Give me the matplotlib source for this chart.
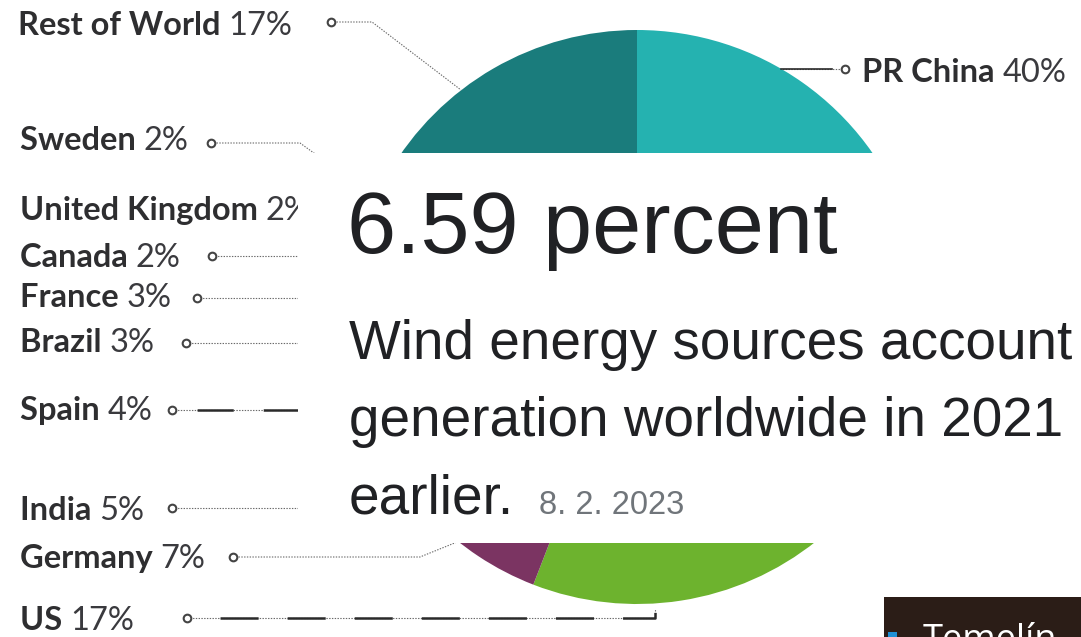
import matplotlib
matplotlib.use("Agg")
import matplotlib.pyplot as plt
from matplotlib.patches import Rectangle

# Share of global installed wind capacity by country (%)
countries = ["PR China", "US", "Germany", "India", "Spain", "Brazil",
             "France", "Canada", "United Kingdom", "Sweden", "Rest of World"]
shares = [40, 17, 7, 5, 4, 3, 3, 2, 2, 2, 17]
slice_colors = ["#25b2b0", "#6db32e", "#7b3462", "#f0a22e", "#e0553b", "#f4c842",
                "#4a6fb5", "#c0392b", "#8e8e8e", "#3c9ad6", "#1a7c7c"]

# Headline snippet
headline = "6.59 percent"
snippet_lines = ["Wind energy sources account",
                 "generation worldwide in 2021",
                 "earlier."]
snippet_date = "8. 2. 2023"
tab_label = "Temelín"

plt.rcParams["lines.scale_dashes"] = False

W, H = 1081, 637
fig = plt.figure(figsize=(W / 100, H / 100), dpi=100)
ax = fig.add_axes([0, 0, 1, 1])

# Pie: starts at 12 o'clock and runs clockwise (y axis is inverted below)
cx, cy, R = 637, 317, 287
ax.pie(shares, colors=slice_colors, startangle=270, counterclock=True,
       center=(cx, cy), radius=R, wedgeprops=dict(linewidth=0))
ax.set_xlim(0, W)
ax.set_ylim(H, 0)
ax.set_aspect("auto")
ax.axis("off")

# Label layout: left x, baseline y, leader path, leader style
layout = {
    "Rest of World":  (18, 35, [(331, 22), (372, 22), (461, 90)], "dot"),
    "Sweden":         (20, 150, [(211, 143), (300, 143), (318, 156)], "dot"),
    "United Kingdom": (20, 220, None, "dot"),
    "Canada":         (20, 267, [(212, 256), (300, 256)], "dot"),
    "France":         (20, 307, [(197, 298), (300, 298)], "dot"),
    "Brazil":         (20, 352, [(186, 343), (300, 343)], "dot"),
    "Spain":          (20, 420, [(172, 410), (300, 410)], "spain"),
    "India":          (20, 520, [(172, 508), (300, 508)], "dot"),
    "Germany":        (20, 568, [(233, 557), (420, 557), (462, 540)], "dot"),
    "US":             (20, 630, [(187, 618), (655, 618), (655, 609)], "us"),
    "PR China":       (862, 82, [(845, 69), (781, 69)], "china"),
}

label_font = "Lato"
label_size = 23.5
label_color = "#2e2e30"
renderer = fig.canvas.get_renderer()

for name, share in zip(countries, shares):
    x, base, path, style = layout[name]
    t = ax.text(x, base, name + " ", fontsize=label_size, family=label_font,
                weight="bold", color=label_color, va="baseline", ha="left", zorder=3)
    bb = t.get_window_extent(renderer=renderer)
    x2 = x + bb.width
    ax.text(x2, base, f"{share}%", fontsize=label_size, family=label_font,
            weight="normal", color="#3a3a3e", va="baseline", ha="left", zorder=3)
    if path is None:
        continue
    xs = [p[0] for p in path]
    ys = [p[1] for p in path]
    ax.plot(xs, ys, color="#6a6a6a", lw=0.8, ls=(0, (1.0, 1.0)), zorder=2,
            solid_capstyle="butt")
    if style == "us":
        ax.plot(xs, ys, color="#2a2a2a", lw=1.8, ls=(24.5, (27.4, 20.9)), zorder=2)
    elif style == "spain":
        ax.plot(xs, ys, color="#2a2a2a", lw=1.8, ls=(29.5, (26.0, 21.6)), zorder=2)
    elif style == "china":
        ax.plot([path[1][0], path[0][0] - 13], [path[0][1], path[0][1]],
                color="#2a2a2a", lw=1.2, zorder=2)
    ax.plot([path[0][0]], [path[0][1]], marker="o", ms=5.5, mfc="white",
            mec="#444444", mew=1.5, zorder=4)

# White snippet panel over the middle of the chart
ax.add_patch(Rectangle((298, 153), W - 298, 543 - 153, facecolor="white",
                       edgecolor="none", zorder=5))

text_font = ["Liberation Sans", "DejaVu Sans"]
ax.text(347, 253, headline, fontsize=63.5, family=text_font, color="#202124",
        va="baseline", ha="left", zorder=6)
for i, line in enumerate(snippet_lines):
    ax.text(349, 359 + 77.5 * i, line, fontsize=39.5, family=text_font,
            color="#202124", va="baseline", ha="left", zorder=6)
ax.text(539, 514, snippet_date, fontsize=23.5, family=text_font, color="#70757a",
        va="baseline", ha="left", zorder=6)

# Dark tab in the lower-right corner
ax.add_patch(Rectangle((884, 597), W - 884, H - 597, facecolor="#2b1d17",
                       edgecolor="none", zorder=6))
ax.add_patch(Rectangle((888, 632), 9, 10, facecolor="#1e90d6",
                       edgecolor="none", zorder=7, clip_on=False))
ax.text(923, 650, tab_label, fontsize=26, family=["Open Sans", "DejaVu Sans"],
        color="white", va="baseline", ha="left", zorder=7)

fig.savefig("out.png", dpi=100, facecolor="white")
